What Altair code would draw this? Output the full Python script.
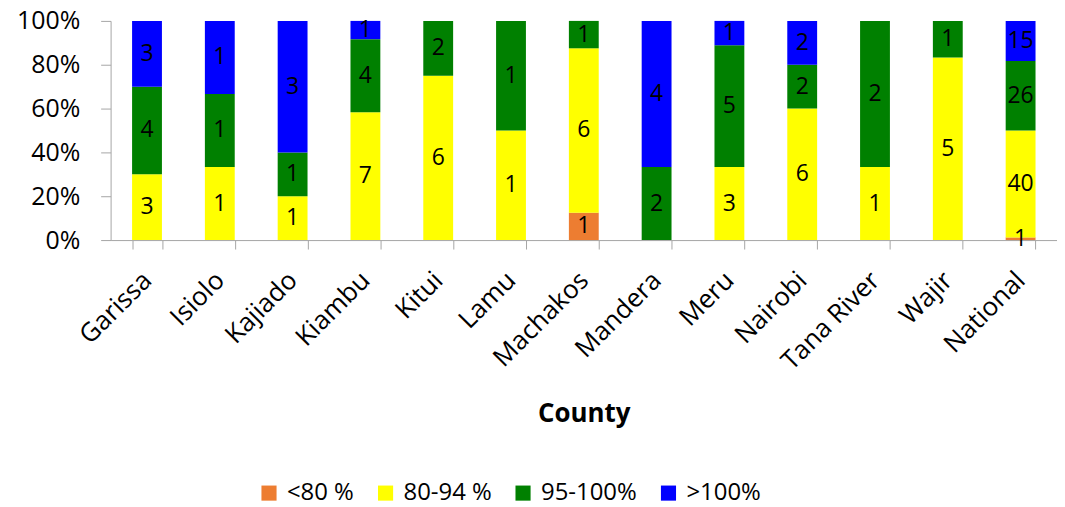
import altair as alt
import pandas as pd

counties = ["Garissa", "Isiolo", "Kajiado", "Kiambu", "Kitui", "Lamu", "Machakos",
            "Mandera", "Meru", "Nairobi", "Tana River", "Wajir", "National"]
categories = ["<80 %", "80-94 %", "95-100%", ">100%"]
colors = ["#ED7D31", "#FFFF00", "#008000", "#0000FF"]

lt80 = [0, 0, 0, 0, 0, 0, 1, 0, 0, 0, 0, 0, 1]
c80_94 = [3, 1, 1, 7, 6, 1, 6, 0, 3, 6, 1, 5, 40]
c95_100 = [4, 1, 1, 4, 2, 1, 1, 2, 5, 2, 2, 1, 26]
gt100 = [3, 1, 3, 1, 0, 0, 0, 4, 1, 2, 0, 0, 15]

rows = []
for series, cat in zip([lt80, c80_94, c95_100, gt100], categories):
    for county, v in zip(counties, series):
        rows.append({"county": county, "cat": cat, "order": categories.index(cat), "count": v})
df = pd.DataFrame(rows)

FONT = "Open Sans"

base = alt.Chart(df).transform_stack(
    stack="count", groupby=["county"], sort=[alt.SortField("order", order="ascending")],
    as_=["y0", "y1"], offset="normalize"
).transform_calculate(mid="(datum.y0 + datum.y1) / 2")

x = alt.X("county:N", sort=counties, title="County",
          scale=alt.Scale(paddingInner=0.59, paddingOuter=0.295),
          axis=alt.Axis(labelAngle=-45, labelAlign="right", labelBaseline="middle",
                        labelFontSize=26, labelFont=FONT, labelColor="#000000",
                        labelPadding=27, titleFont=FONT, titleFontSize=26,
                        titleFontWeight="bold", titleColor="#000000", titlePadding=26,
                        domainColor="#A6A6A6", tickColor="#A6A6A6", tickSize=9,
                        tickBand="extent"))

bars = base.mark_bar().encode(
    x=x,
    y=alt.Y("y0:Q", title=None, scale=alt.Scale(domain=[0, 1]),
            axis=alt.Axis(values=[0, 0.2, 0.4, 0.6, 0.8, 1.0], format=".0%",
                          labelFontSize=25, labelFont=FONT, labelColor="#000000",
                          labelPadding=21, domainColor="#A6A6A6", tickColor="#A6A6A6",
                          tickSize=10, grid=False)),
    y2="y1:Q",
    color=alt.Color("cat:N", sort=categories,
                    scale=alt.Scale(domain=categories, range=colors),
                    legend=alt.Legend(title=None, orient="none", direction="horizontal",
                                      columns=4, legendX=147, legendY=462,
                                      labelFont=FONT, labelFontSize=24, labelColor="#000000",
                                      symbolType="square", symbolSize=230,
                                      symbolStrokeWidth=0, labelOffset=6,
                                      columnPadding=19))
)

texts = base.transform_filter("datum.count > 0").mark_text(
    fontSize=23, font=FONT, color="#000000", baseline="middle"
).encode(
    x=alt.X("county:N", sort=counties),
    y="mid:Q",
    text="count:Q"
)

chart = alt.layer(bars, texts).properties(
    width=950, height=220,
    autosize=alt.AutoSizeParams(type="none"),
    padding={"left": 103, "top": 12, "right": 0, "bottom": 267}
).configure_view(stroke=None)

chart.save("out.html", embed_options={"renderer": "svg", "actions": False})
